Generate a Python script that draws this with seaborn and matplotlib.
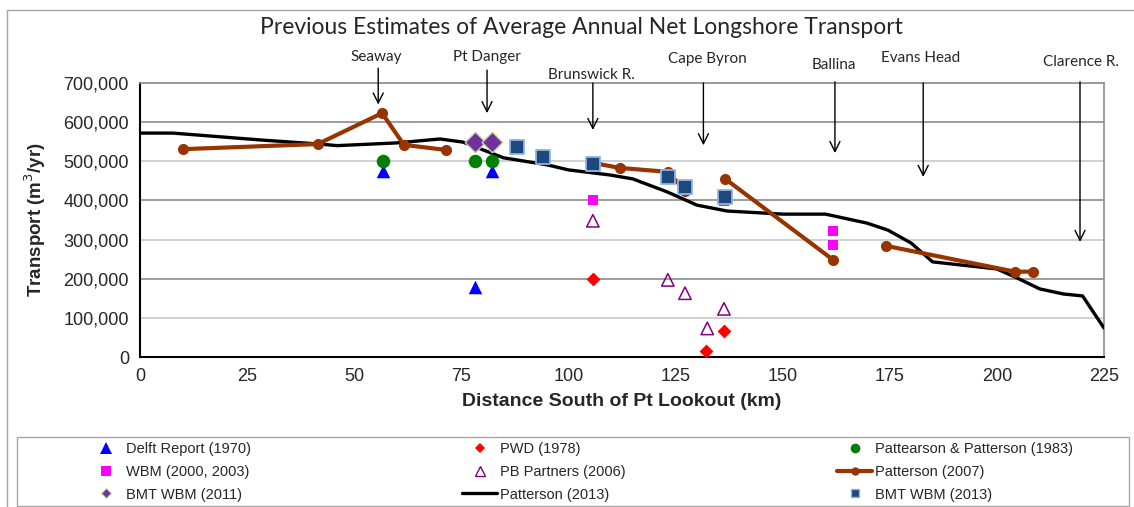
import numpy as np
import pandas as pd
import seaborn as sns
import matplotlib.pyplot as plt
from matplotlib.lines import Line2D
from matplotlib.patches import Rectangle

# ---- data (distance south of Pt Lookout in km, transport in m3/yr) ----
delft_x = [56.7, 78.2, 82.2]
delft_y = [476000, 180000, 476000]

pwd_x = [105.7, 132.1, 136.3]
pwd_y = [200000, 15000, 66000]

pp1983_x = [56.7, 78.2, 82.2]
pp1983_y = [500000, 500000, 500000]

wbm_x = [105.7, 136.3, 161.8, 161.8]
wbm_y = [400000, 398000, 323000, 285000]

pb_x = [105.7, 123.2, 127.2, 132.4, 136.3]
pb_y = [348000, 197000, 163000, 73000, 123000]

# Patterson (2007) is drawn in separate pieces (seg)
p2007_x = [10, 41.5, 56.5, 61.6, 71.4, 94.0, 105.7, 112.0, 123.2, 127.2,
           136.6, 161.8, 174.1, 204.2, 208.4]
p2007_y = [531000, 544000, 623000, 542000, 529000, 517000, 496000, 483000,
           473000, 425000, 455000, 248000, 284000, 218000, 218000]
p2007_seg = [1, 1, 1, 1, 1, 2, 3, 3, 3, 3, 4, 4, 5, 5, 5]

bmt2011_x = [78.2, 82.2]
bmt2011_y = [550000, 550000]

p2013_x = [0, 7.7, 28.7, 42, 46, 60, 70, 75.4, 84.8, 95, 100, 109.7, 115,
           123, 130, 137, 150, 160, 169.7, 174.6, 180, 185, 200, 204.7, 210,
           215.5, 220, 225]
p2013_y = [572000, 572000, 554000, 544000, 540000, 547000, 557000, 549000,
           509000, 491000, 478000, 465000, 455000, 422000, 388000, 373000,
           365000, 365000, 342000, 324000, 291000, 243000, 225000, 202000,
           174000, 161000, 156000, 74000]

bmt2013_x = [88.0, 94.0, 105.7, 123.2, 127.2, 136.6]
bmt2013_y = [537000, 512000, 493000, 460000, 435000, 410000]

# place names with arrows
places = ['Seaway', 'Pt Danger', 'Brunswick R.', 'Cape Byron', 'Ballina',
          'Evans Head', 'Clarence R.']
place_x = [55.6, 81.0, 105.7, 131.5, 162.2, 182.8, 219.4]
place_text_x = [55.1, 81.0, 105.3, 132.4, 162.0, 182.3, 219.7]
place_text_y = [766000, 766000, 720000, 761000, 746000, 764000, 754000]
arrow_top = [738000, 733000, 700000, 700000, 703000, 700000, 703000]
arrow_tip = [645000, 623000, 580000, 541000, 521000, 460000, 294000]

sns.set_style('white')
plt.rcParams['font.family'] = ['Liberation Sans', 'DejaVu Sans']
label_font = ['Lato', 'DejaVu Sans']

brown = '#993300'

fig = plt.figure(figsize=(11.34, 5.07), dpi=100)
ax = fig.add_axes([140 / 1134, 1 - 357 / 507, 964 / 1134, 274 / 507])

# gridlines
for i, g in enumerate(range(100000, 700001, 100000)):
    ax.axhline(g, color='#8c8c8c' if i % 2 else '#c8c8c8', lw=1.2, zorder=0)

# Patterson (2013)
sns.lineplot(x=p2013_x, y=p2013_y, color='black', lw=2.4, ax=ax,
             sort=False, estimator=None, zorder=3)

# Patterson (2007)
df07 = pd.DataFrame({'x': p2007_x, 'y': p2007_y, 'seg': p2007_seg})
sns.lineplot(data=df07, x='x', y='y', units='seg', estimator=None, sort=False,
             color=brown, lw=3.0, marker='o', markersize=8, markeredgewidth=0,
             ax=ax, zorder=4)

sns.scatterplot(x=delft_x, y=delft_y, marker='^', color='#0000ff', s=95,
                linewidth=0, ax=ax, zorder=5)
sns.scatterplot(x=pp1983_x, y=pp1983_y, marker='o', color='#008000', s=95,
                linewidth=0, ax=ax, zorder=5)
sns.scatterplot(x=pwd_x, y=pwd_y, marker='D', color='#ff0000', s=50,
                linewidth=0, ax=ax, zorder=5)
sns.scatterplot(x=wbm_x, y=wbm_y, marker='s', color='#ff00ff', s=55,
                linewidth=0, ax=ax, zorder=5)
sns.scatterplot(x=pb_x, y=pb_y, marker='^', facecolor='none',
                edgecolor='#800080', s=80, linewidth=1.1, ax=ax, zorder=5)
sns.scatterplot(x=bmt2011_x, y=bmt2011_y, marker='D', color='#7030a0', s=110,
                edgecolor='#c4d79b', linewidth=1.0, ax=ax, zorder=6)
sns.scatterplot(x=bmt2013_x, y=bmt2013_y, marker='s', color='#1f497d', s=90,
                edgecolor='#8db4e2', linewidth=1.3, ax=ax, zorder=6)

ax.set_xlim(0, 225)
ax.set_ylim(0, 700000)
ax.set_xticks(range(0, 226, 25))
ax.set_yticks(range(0, 700001, 100000))
ax.yaxis.set_major_formatter(plt.FuncFormatter(lambda v, p: f'{int(v):,}'))
ax.tick_params(labelsize=13, length=0, pad=8)
ax.set_xlabel('Distance South of Pt Lookout (km)', fontsize=14,
              fontweight='bold', labelpad=6)
ax.set_ylabel('Transport (m$^3$/yr)', fontsize=13.5, fontweight='bold',
              labelpad=11)
for s in ['left', 'bottom']:
    ax.spines[s].set_color('black')
    ax.spines[s].set_linewidth(1.5)
for s in ['top', 'right']:
    ax.spines[s].set_color('#8c8c8c')
    ax.spines[s].set_linewidth(1.2)

# place annotations
for name, px, tx, ty, top, tip in zip(places, place_x, place_text_x,
                                       place_text_y, arrow_top, arrow_tip):
    ax.text(tx, ty, name, ha='center', va='center', fontsize=11,
            family=label_font, clip_on=False)
    ax.annotate('', xy=(px, tip), xytext=(px, top), annotation_clip=False,
                arrowprops=dict(arrowstyle='->', color='black', lw=1.0,
                                mutation_scale=18, shrinkA=0, shrinkB=0))

fig.text(581 / 1134, 1 - 27 / 507,
         'Previous Estimates of Average Annual Net Longshore Transport',
         ha='center', va='center', fontsize=16.5, family=label_font)

# outer border and legend frame
fig.patches.append(Rectangle((7 / 1134, -0.1), 1.2, 1.1 - 10 / 507,
                             transform=fig.transFigure, fill=False,
                             edgecolor='#a6a6a6', lw=1.0))
fig.patches.append(Rectangle((17 / 1134, 1 - 506 / 507), 1112 / 1134, 69 / 507,
                             transform=fig.transFigure, fill=False,
                             edgecolor='#a6a6a6', lw=1.0))

handles = [
    Line2D([], [], ls='none', marker='^', color='#0000ff', ms=8, mew=0),
    Line2D([], [], ls='none', marker='s', color='#ff00ff', ms=7, mew=0),
    Line2D([], [], ls='none', marker='D', color='#7030a0', ms=5,
           mec='#c4d79b', mew=0.8),
    Line2D([], [], ls='none', marker='D', color='#ff0000', ms=5.5, mew=0),
    Line2D([], [], ls='none', marker='^', mfc='none', mec='#800080', ms=7,
           mew=1.0),
    Line2D([], [], color='black', lw=2.4),
    Line2D([], [], ls='none', marker='o', color='#008000', ms=7, mew=0),
    Line2D([], [], color=brown, lw=3.0, marker='o', ms=6, mew=0),
    Line2D([], [], ls='none', marker='s', color='#1f497d', ms=6,
           mec='#8db4e2', mew=1.0),
]
labels = ['Delft Report (1970)', 'WBM (2000, 2003)', 'BMT WBM (2011)',
          'PWD (1978)', 'PB Partners (2006)', 'Patterson (2013)',
          'Pattearson & Patterson (1983)', 'Patterson (2007)', 'BMT WBM (2013)']
fig.legend(handles, labels, ncol=3, loc='upper left',
           bbox_to_anchor=(88 / 1134, 1 - 442 / 507), frameon=False,
           fontsize=10.5, handlelength=2.4, handletextpad=0.2,
           columnspacing=14.5, labelspacing=0.6, borderpad=0,
           borderaxespad=0)

fig.savefig('out.png', dpi=100)
